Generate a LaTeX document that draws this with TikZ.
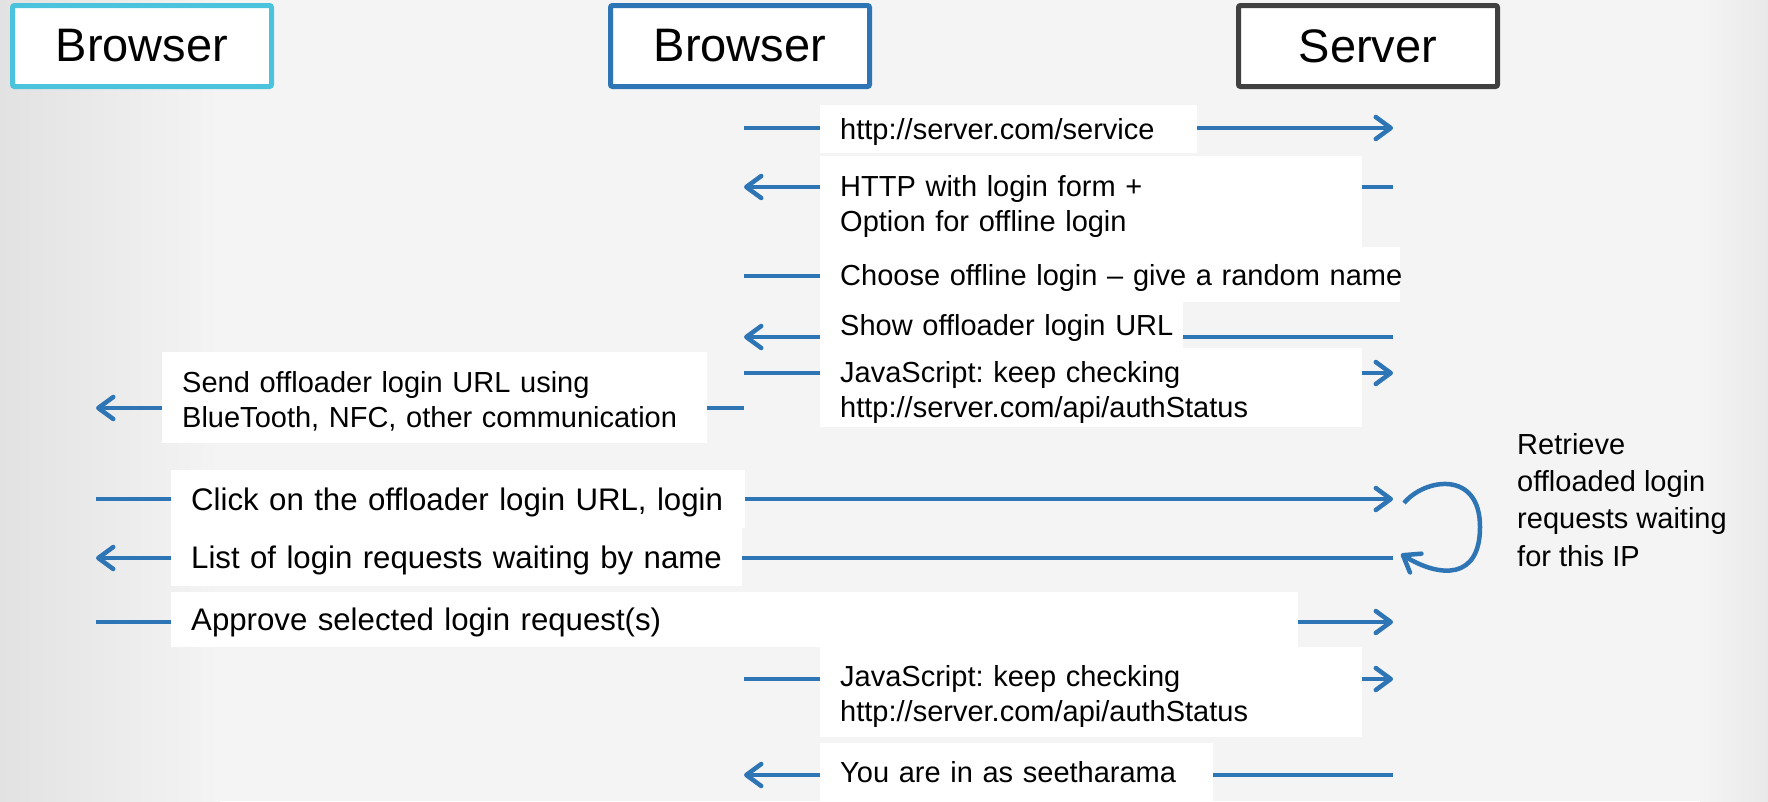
\documentclass[tikz,border=0pt]{standalone}
\usepackage{fontspec}
\setmainfont{Liberation Sans}
\frenchspacing
\usetikzlibrary{arrows.meta,positioning}
\definecolor{bgcolor}{RGB}{244,244,244}
\definecolor{bgedge}{RGB}{226,226,226}
\definecolor{arrowcolor}{RGB}{46,117,182}
\definecolor{clientcolor}{RGB}{75,195,220}
\definecolor{servercolor}{RGB}{64,64,64}
\tikzset{
	actor/.style={
		rectangle,
		line width=5pt,
		rounded corners=2pt,
		fill=white,
		minimum width=259pt,
		minimum height=81pt,
		font=\fontsize{47}{54}\selectfont
	},
	msgbox/.style={
		rectangle,
		fill=white,
		anchor=west,
		inner xsep=20pt,
		inner ysep=0pt,
		text depth=0pt,
		align=left,
		font=\fontsize{29}{35}\selectfont
	},
	twoline/.style={
		text depth=32pt
	},
	bigmsg/.style={
		font=\fontsize{31.2}{37}\selectfont
	},
	msg/.style={
		draw=arrowcolor,
		line width=4.5pt,
		-{Straight Barb[length=15pt,width=22pt,round]}
	},
	note/.style={
		align=left,
		inner sep=0pt,
		anchor=north west,
		font=\fontsize{29}{37.3}\selectfont
	},
}

\begin{document}
\begin{tikzpicture}[x=1pt,y=-1pt,on grid]
	% background
	\fill[bgcolor] (0,0) rectangle (1768,801);
	\shade[left color=bgedge,right color=bgcolor] (0,0) rectangle (220,801);
	\shade[left color=bgcolor,right color=bgedge!60!bgcolor] (1700,0) rectangle (1768,801);
	\useasboundingbox (0,0) rectangle (1768,801);

	\node[actor,draw=clientcolor] (b1) at (142,46) {Browser};
	\node[actor,draw=arrowcolor] (b2) [right=598pt of b1] {Browser};
	\node[actor,draw=servercolor] (srv) [right=628pt of b2] {Server};

	% lifelines
	\coordinate (l1) at (96,0);
	\coordinate (l2) at (744,0);
	\coordinate (l3) at (1393,0);

	\foreach \a/\b/\y [count=\i] in {l2/l3/128, l3/l2/187, l2/l3/276, l3/l2/337,
		l2/l3/373, l2/l1/408, l1/l3/499, l3/l1/558, l1/l3/622, l2/l3/679, l3/l2/775} {
		\coordinate (s\i) at (\a |- 0,\y);
		\coordinate (e\i) at (\b |- 0,\y);
		\draw[msg] (s\i) -- (e\i);
	}

	\node[msgbox,minimum width=377pt,minimum height=48pt,text width=337pt] (m1) at (820,129) {http://server.com/service};
	\node[msgbox,twoline,minimum width=542pt,minimum height=91pt,text width=502pt] (m2) at (820,201.5) {HTTP with login form +\\Option for offline login};
	\node[msgbox,minimum width=580pt,minimum height=55pt,text width=540pt] (m3) at (820,274.5) {\mbox{Choose offline login – give a random name}};
	\node[msgbox,minimum width=363pt,minimum height=46pt,text width=323pt] (m4) at (820,325) {\mbox{Show offloader login URL}};
	\node[msgbox,twoline,minimum width=542pt,minimum height=79pt,text width=502pt] (m5) at (820,387.5) {JavaScript: keep checking\\http://server.com/api/authStatus};
	\node[msgbox,twoline,minimum width=545pt,minimum height=91pt,text width=505pt] (m6) at (162,397.5) {Send offloader login URL using\\BlueTooth, NFC, other communication};
	\node[msgbox,bigmsg,minimum width=574pt,minimum height=58pt,text width=534pt] (m7) at (171,499) {\mbox{Click on the offloader login URL, login}};
	\node[msgbox,bigmsg,minimum width=571pt,minimum height=58pt,text width=531pt] (m8) at (171,557) {\mbox{List of login requests waiting by name}};
	\node[msgbox,bigmsg,minimum width=1127pt,minimum height=55pt,text width=1087pt] (m9) at (171,619.5) {Approve selected login request(s)};
	\node[msgbox,twoline,minimum width=542pt,minimum height=90pt,text width=502pt] (m10) at (820,692) {JavaScript: keep checking\\http://server.com/api/authStatus};
	\node[msgbox,minimum width=393pt,minimum height=58pt,text width=353pt] (m11) at (820,772) {You are in as seetharama};

	% loop at the server
	\coordinate (lp1) at (1404,503);
	\coordinate (lp2) at (1401,554);
	\draw[msg] (lp1) .. controls (1425,478) and (1480,470) .. (1480,527)
		.. controls (1480,580) and (1440,578) .. (lp2);
	\node[note] (retr) at (1517,433) {Retrieve\\offloaded login\\requests waiting\\for this IP};
\end{tikzpicture}
\end{document}
